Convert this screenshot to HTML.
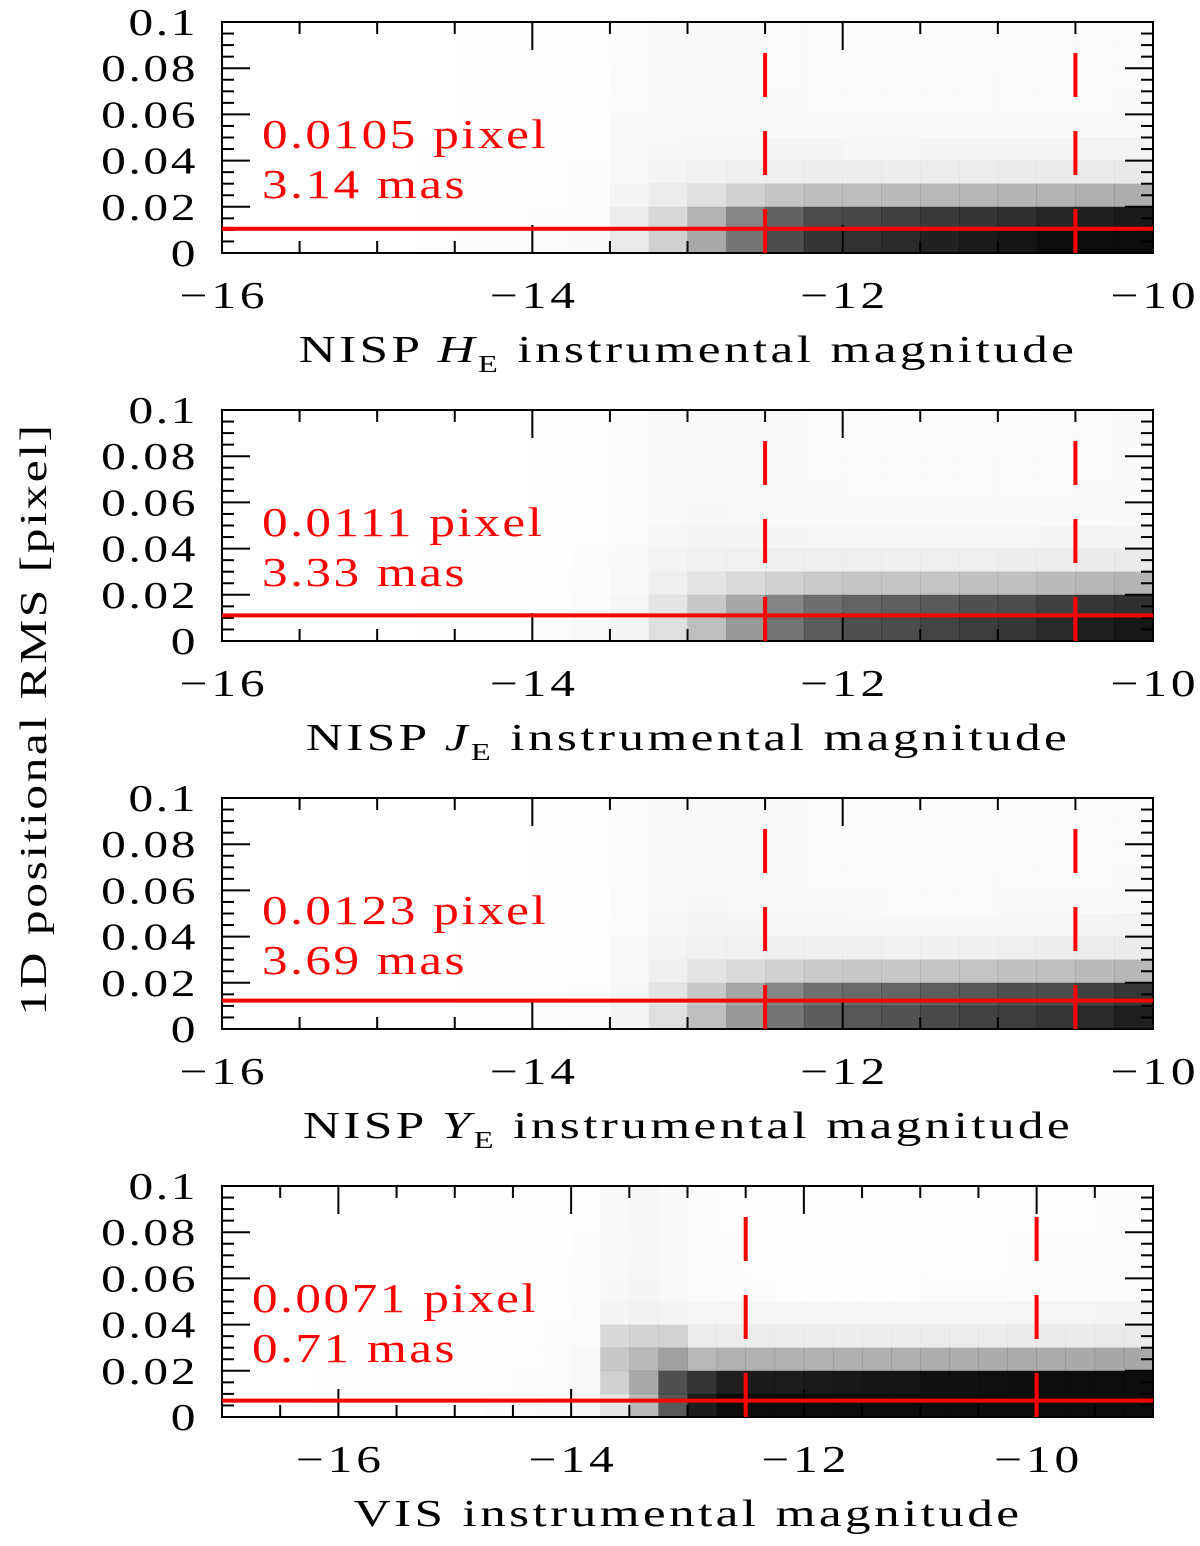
<!DOCTYPE html>
<html><head><meta charset="utf-8"><style>
body{margin:0;background:#fff;}
svg text{font-family:"Liberation Serif",serif;}
</style></head><body>
<svg id="c" width="1200" height="1541" xmlns="http://www.w3.org/2000/svg">
<text x="0" y="0" font-size="38" letter-spacing="2" text-anchor="middle" transform="translate(46 719) rotate(-90) scale(1.3 1)">1D positional RMS [pixel]</text>
</svg>
<script>
// Panel data (densities)
const titles=["H","J","Y","VIS"];
const pixelVals=["0.0105","0.0111","0.0123","0.0071"];
const masVals=["3.14","3.33","3.69","0.71"];
const medians=[0.0105,0.0111,0.0123,0.0071];
const xMins=[-16,-16,-16,-17];
const xMaxs=[-10,-10,-10,-9];
const xTicks1=[-16,-14,-12,-10];
const xTicks4=[-16,-14,-12,-10];
const dashX1=[-12.5,-10.5];
const dashX4=[-12.5,-10];
const yTickLabels=["0","0.02","0.04","0.06","0.08","0.1"];
// band (dense lower ridge) density per 0.25-mag column
const bandH=[0,0,0,0,0,0,0,0,0,0,0.03,0.1,0.25,0.45,0.6,0.7,0.72,0.75,0.78,0.8,0.82,0.85,0.88,0.9];
const haloH=[0,0,0,0,0,0.01,0.02,0.02,0.03,0.04,0.1,0.14,0.14,0.13,0.12,0.11,0.1,0.1,0.1,0.1,0.1,0.11,0.11,0.12];
const bandJ=[0,0,0,0,0,0,0,0,0,0,0,0.04,0.15,0.3,0.45,0.55,0.6,0.62,0.65,0.68,0.7,0.74,0.78,0.8];
const haloJ=[0,0,0,0,0,0.01,0.01,0.01,0.02,0.04,0.08,0.16,0.18,0.16,0.14,0.12,0.11,0.1,0.1,0.1,0.1,0.11,0.12,0.13];
const bandY=[0,0,0,0,0,0,0,0,0,0,0,0.04,0.15,0.3,0.45,0.55,0.58,0.6,0.63,0.66,0.68,0.7,0.74,0.78];
const haloY=[0,0,0,0,0,0,0.01,0.01,0.02,0.03,0.08,0.16,0.18,0.16,0.13,0.11,0.1,0.09,0.09,0.09,0.1,0.1,0.11,0.12];
const bandV=[0,0,0,0,0,0,0,0,0,0,0,0,0,0,0.15,0.55,0.8,0.9,0.92,0.92,0.93,0.94,0.95,0.95,0.96,0.96,0.97,0.98,0.98,0.99,1,1];
const haloV=[0,0,0,0.01,0.01,0.01,0.01,0.01,0.01,0.02,0.03,0.04,0.07,0.18,0.22,0.15,0.09,0.07,0.06,0.05,0.05,0.05,0.05,0.05,0.06,0.06,0.06,0.07,0.07,0.07,0.08,0.08];
const bandProfile=[1,0.9,0.3,0.06,0.02,0,0,0,0,0];
const haloProfile=[0.5,0.4,0.3,0.24,0.2,0.17,0.15,0.14,0.13,0.13];
const bands=[bandH,bandJ,bandY,bandV];
const halos=[haloH,haloJ,haloY,haloV];

const svg=document.getElementById('c');
const NS="http://www.w3.org/2000/svg";
function mk(tag,attrs,parent){const e=document.createElementNS(NS,tag);for(const k in attrs)e.setAttribute(k,attrs[k]);(parent||svg).appendChild(e);return e;}
function txt(parent,x,y,sx,attrs){attrs.x=0;attrs.y=0;attrs.transform='translate('+x+' '+y+') scale('+sx+' 1)';return mk('text',attrs,parent);}
const L=222,R=1153,H=231;
const tops=[22,410,798,1186];
for(let p=0;p<4;p++){
  const T=tops[p],B=T+H;
  const g=mk('g',{});
  
  
  const xs=v=>L+(v-xMins[p])/(xMaxs[p]-xMins[p])*(R-L);
  const ys=v=>B-v/0.1*H;
  const band=bands[p],halo=halos[p];
  const cw=0.25;
  for(let c=0;c<band.length;c++){
    for(let r=0;r<10;r++){
      let v=band[c]*bandProfile[r]+halo[c]*haloProfile[r];
      if(p===3&&c>=13&&c<=15&&r>=1&&r<=3) v+=0.15*(3-Math.abs(r-2))/3;
      if(v<=0)continue;
      const x0=xs(xMins[p]+c*cw),x1=xs(xMins[p]+(c+1)*cw);
      const cell=mk('rect',{x:x0,y:ys((r+1)*0.01),width:x1-x0+0.3,height:ys(0)-ys(0.01)+0.3,fill:'#000','fill-opacity':Math.min(0.95,v*1.05)},g);
      
      
    }
  }
  const fr=mk('rect',{x:L,y:T,width:R-L,height:H,fill:'none',stroke:'#000','stroke-width':2},g);
  
  
  for(let v=xMins[p];v<=xMaxs[p]+1e-9;v+=0.5){
    const major=Math.abs(v-Math.round(v))<1e-9 && Math.round(v)%2===0;
    const len=major?28:12;
    mk('line',{x1:xs(v),x2:xs(v),y1:B,y2:B-len,stroke:'#000','stroke-width':2},g);
    mk('line',{x1:xs(v),x2:xs(v),y1:T,y2:T+len,stroke:'#000','stroke-width':2},g);
  }
  for(let i=0;i<=20;i++){
    const v=i*0.005;const major=i%4===0;const len=major?28:12;
    mk('line',{x1:L,x2:L+len,y1:ys(v),y2:ys(v),stroke:'#000','stroke-width':2},g);
    mk('line',{x1:R,x2:R-len,y1:ys(v),y2:ys(v),stroke:'#000','stroke-width':2},g);
  }
  yTickLabels.forEach((t,i)=>{
    const e=txt(g,198,ys(i*0.02)+13,1.3,{'font-size':38,'text-anchor':'end','letter-spacing':2});
    e.textContent=t;
    
    
  });
  const xt=p===3?xTicks4:xTicks1;
  xt.forEach(t=>{
    const e=txt(g,xs(t)+2,B+55,1.3,{'font-size':38,'text-anchor':'middle','letter-spacing':3});
    e.textContent='\u2212'+Math.abs(t);
    
    
  });
  const at=txt(g,688,B+109,1.35,{'font-size':38,'text-anchor':'middle','letter-spacing':2.5});
  
  
  if(p<3){
    at.innerHTML='NISP <tspan font-style="italic">'+titles[p]+'</tspan><tspan font-size="24" dy="10">E</tspan><tspan dy="-10"> instrumental magnitude</tspan>';
  } else at.textContent='VIS instrumental magnitude';
  const hl=mk('line',{x1:L,x2:R,y1:ys(medians[p]),y2:ys(medians[p]),stroke:'#f00','stroke-width':4},g);
  
  
  const dx=p===3?dashX4:dashX1;
  dx.forEach(v=>{
    const top=p===3?T+20:T+18;
    const d=mk('line',{x1:xs(v),x2:xs(v),y1:B,y2:top,stroke:'#f00','stroke-width':4,'stroke-dasharray':'44 34'},g);
    
    
  });
  const ax=p===3?252:262;
  const a1=txt(g,ax,T+126,1.25,{'font-size':41,fill:'#f00','letter-spacing':2});
  a1.textContent=pixelVals[p]+' pixel';
  
  
  const a2=txt(g,ax,T+176,1.25,{'font-size':41,fill:'#f00','letter-spacing':2});
  a2.textContent=masVals[p]+' mas';
  
  
}
</script>
</body></html>
